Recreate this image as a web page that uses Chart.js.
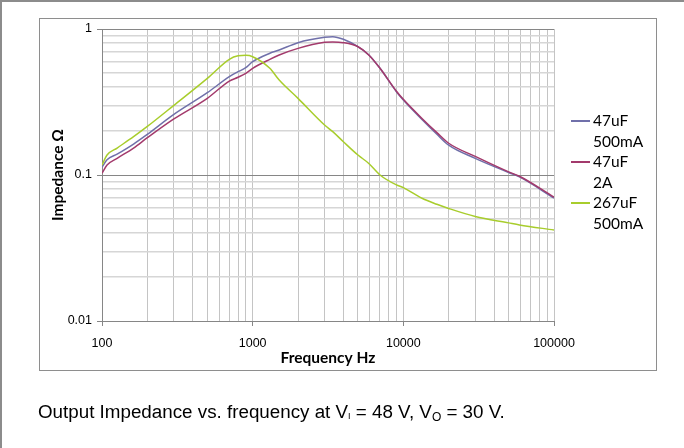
<!DOCTYPE html>
<html>
<head>
<meta charset="utf-8">
<script src="https://cdn.jsdelivr.net/npm/chart.js@4.4.0/dist/chart.umd.min.js"></script>
<style>
  body { margin: 0; background: #fff; }
  #page { position: relative; width: 684px; height: 448px; overflow: hidden; }
  #frame { position: absolute; left: 0; top: 0; width: 700px; height: 460px; border-top: 2px solid #8c8c8c; border-left: 2px solid #8c8c8c; box-sizing: border-box; }
  #box { position: absolute; left: 39px; top: 18px; width: 618px; height: 353px; border: 1px solid #8e8e8e; box-sizing: border-box; }
  #chart { position: absolute; left: 0; top: 0; }
  #legend { position: absolute; left: 571px; top: 110px; font-family: Lato, "Open Sans", sans-serif; font-size: 15.5px; color: #000; }
  .item { display: flex; align-items: flex-start; }
  .swatch { width: 19px; height: 0; margin-top: 10px; margin-right: 3px; }
  .txt { line-height: 20.5px; }
  #caption { position: absolute; left: 38px; top: 401px; font-family: "Liberation Sans", Arial, sans-serif; font-size: 18.8px; color: #000; white-space: nowrap; }
  #caption .si { font-size: 9px; vertical-align: -1px; }
  #caption .so { font-size: 12px; vertical-align: -3px; }
</style>
</head>
<body>
<div id="page">
  <div id="frame"></div>
  <div id="box"></div>
  <canvas id="chart" width="684" height="448"></canvas>
  <div id="legend"></div>
  <div id="caption">Output Impedance vs. frequency at V<span class="si">I</span> = 48 V, V<span class="so">O</span> = 30 V.</div>
</div>
<script>
// frequency points (Hz)
const freqs = [100, 108, 126, 162, 200, 300, 500, 700, 800, 900, 1000, 1300, 1500, 2000, 3000, 3400, 4000, 5000, 5900, 7000, 9000, 10000, 13400, 16700, 20000, 30000, 50000, 59000, 100000];

// impedance (Ohm) per series
const z47u500m = [0.113, 0.127, 0.139, 0.163, 0.19, 0.26, 0.366, 0.472, 0.51, 0.543, 0.597, 0.682, 0.718, 0.806, 0.877, 0.886, 0.85, 0.756, 0.664, 0.538, 0.372, 0.326, 0.238, 0.19, 0.16, 0.13, 0.104, 0.097, 0.0695];
const z47u2A = [0.103, 0.117, 0.13, 0.153, 0.18, 0.242, 0.335, 0.44, 0.467, 0.497, 0.538, 0.62, 0.664, 0.737, 0.81, 0.815, 0.806, 0.756, 0.664, 0.538, 0.375, 0.33, 0.242, 0.195, 0.165, 0.134, 0.105, 0.098, 0.0705];
const z267u500m = [0.117, 0.137, 0.153, 0.183, 0.215, 0.30, 0.459, 0.62, 0.655, 0.66, 0.646, 0.538, 0.447, 0.335, 0.22, 0.198, 0.169, 0.137, 0.12, 0.1, 0.0855, 0.082, 0.069, 0.063, 0.059, 0.052, 0.047, 0.0455, 0.042];

const seriesNames = [['47uF', '500mA'], ['47uF', '2A'], ['267uF', '500mA']];
const seriesColors = ['#7070aa', '#a33a6c', '#a8cd2c'];

// axis ticks
const xMajor = [100, 1000, 10000, 100000];
const xTickLabels = ['100', '1000', '10000', '100000'];
const yMajor = [0.01, 0.1, 1];
const yTickLabels = ['0.01', '0.1', '1'];
const minorSteps = [1, 2, 3, 4, 5, 6, 7, 8, 9];

function logTicks(majors) {
    let out = [];
    for (let i = 0; i < majors.length; i++) {
        if (i == majors.length - 1) {
            out.push(majors[i]);
            break;
        }
        minorSteps.forEach(s => out.push(+(majors[i] * s).toPrecision(6)));
    }
    return out;
}

function toPoints(ys) {
    return freqs.map((f, i) => ({x: f, y: ys[i]}));
}

const allSeries = [z47u500m, z47u2A, z267u500m];
const datasets = allSeries.map((s, i) => ({
    label: seriesNames[i].join(' '),
    data: toPoints(s),
    borderColor: seriesColors[i],
    backgroundColor: seriesColors[i],
    borderWidth: 1.5,
    pointRadius: 0,
    cubicInterpolationMode: 'monotone',
    fill: false
}));
// green underneath, purple curves on top
datasets.reverse();

const isMajor = (list, v) => list.some(m => Math.abs(m - v) / m < 1e-6);

const chart = new Chart(document.getElementById('chart'), {
    type: 'line',
    data: { datasets: datasets },
    options: {
        responsive: false,
        animation: false,
        devicePixelRatio: 1,
        layout: { padding: { left: 49, right: 130, top: 29, bottom: 81 } },
        plugins: {
            legend: { display: false },
            tooltip: { enabled: false }
        },
        scales: {
            x: {
                type: 'logarithmic',
                min: 100,
                max: 100000,
                afterBuildTicks: scale => { scale.ticks = logTicks(xMajor).map(v => ({value: v})); },
                afterFit: scale => { scale.height = 46; },
                ticks: {
                    autoSkip: false,
                    maxRotation: 0,
                    padding: 10,
                    color: '#000',
                    font: { family: '"Liberation Sans", Arial, sans-serif', size: 12.5 },
                    callback: v => {
                        let k = xMajor.findIndex(m => Math.abs(m - v) / m < 1e-6);
                        return k >= 0 ? xTickLabels[k] : '';
                    }
                },
                grid: {
                    color: '#c4c4c4',
                    lineWidth: 1,
                    tickLength: 5,
                    tickColor: ctx => ctx.tick && isMajor(xMajor, ctx.tick.value) ? '#868686' : 'rgba(0,0,0,0)'
                },
                border: { color: '#868686', width: 1 },
                title: {
                    display: true,
                    text: 'Frequency Hz',
                    color: '#000',
                    padding: 0,
                    font: { family: 'Lato, "Open Sans", sans-serif', size: 15.5, weight: 'bold' }
                }
            },
            y: {
                type: 'logarithmic',
                min: 0.01,
                max: 1,
                afterBuildTicks: scale => { scale.ticks = logTicks(yMajor).map(v => ({value: v})); },
                afterFit: scale => { scale.width = 53; },
                ticks: {
                    autoSkip: false,
                    padding: 5,
                    color: '#000',
                    font: { family: '"Liberation Sans", Arial, sans-serif', size: 12.5 },
                    callback: v => {
                        let k = yMajor.findIndex(m => Math.abs(m - v) / m < 1e-6);
                        return k >= 0 ? yTickLabels[k] : '';
                    }
                },
                grid: {
                    color: ctx => ctx.tick && isMajor(yMajor, ctx.tick.value) ? '#868686' : '#d6d6d6',
                    lineWidth: ctx => ctx.tick && isMajor(yMajor, ctx.tick.value) ? 1 : 1.5,
                    tickLength: 5,
                    tickColor: ctx => ctx.tick && isMajor(yMajor, ctx.tick.value) ? '#868686' : 'rgba(0,0,0,0)'
                },
                border: { color: '#868686', width: 1 },
                title: {
                    display: true,
                    text: 'Impedance Ω',
                    color: '#000',
                    padding: 0,
                    font: { family: 'Lato, "Open Sans", sans-serif', size: 15.5, weight: 'bold' }
                }
            }
        }
    }
});

// legend built from the series names, in the original order
const legendEl = document.getElementById('legend');
seriesNames.forEach((name, i) => {
    let item = document.createElement('div');
    item.className = 'item';
    item.innerHTML = '<div class="swatch" style="border-top:2px solid ' + seriesColors[i] + '"></div>' +
        '<div class="txt">' + name.join('<br>') + '</div>';
    legendEl.appendChild(item);
});
</script>
</body>
</html>
